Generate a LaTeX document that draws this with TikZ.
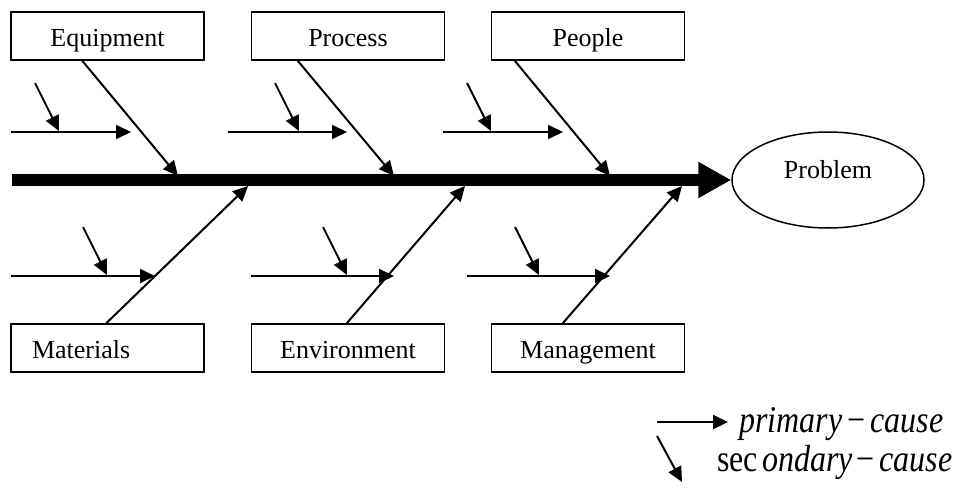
\documentclass[tikz,border=0pt]{standalone}
\usepackage{fontspec}
\usepackage{graphicx}
\setmainfont{Liberation Serif}
\usetikzlibrary{arrows.meta,shapes.geometric}
\tikzset{
  category/.style={draw, line width=1.5pt, minimum width=193pt, minimum height=48pt,
    inner sep=0pt, text height=24pt, text depth=3pt, font=\fontsize{26}{30}\selectfont},
  bone/.style={line width=2pt, -{Triangle[length=15pt,width=14pt]}},
  spine/.style={line width=12pt, -{Triangle[length=33pt,width=34pt]}},
  keytext/.style={inner sep=0pt, anchor=base west, font=\fontsize{32}{36}\selectfont}
}
\begin{document}
\begin{tikzpicture}[x=1pt,y=-1pt]
    \useasboundingbox (0,0) rectangle (960,487);
    % Categories and problem
    \node [category] (eqp) at (107.5,36) {Equipment};
    \node [category] (proc) at (348,36) {Process};
    \node [category] (ppl) at (588,36) {People};
    \node [category, text width=151pt, inner xsep=21pt, align=left] (mat) at (107.5,348) {Materials};
    \node [category] (env) at (348,348) {Environment};
    \node [category] (mgmt) at (588,348) {Management};
    \node [ellipse, draw, line width=1.5pt, minimum width=192pt, minimum height=96pt,
        text height=10pt, text depth=14pt, font=\fontsize{26}{30}\selectfont] (prob) at (828,180) {Problem};
    % Draw spine
    \coordinate (tail) at (12,180);
    \draw [spine] (tail) -- (prob.west);
    % Main bones
    \coordinate (eqp-tip) at (178,176);
    \coordinate (proc-tip) at (394,176);
    \coordinate (ppl-tip) at (610,176);
    \coordinate (mat-tip) at (248,186);
    \coordinate (env-tip) at (465,186);
    \coordinate (mgmt-tip) at (682,186);
    \draw [bone] ([xshift=72pt]eqp.south west) -- (eqp-tip);
    \draw [bone] ([xshift=47pt]proc.south west) -- (proc-tip);
    \draw [bone] ([xshift=24pt]ppl.south west) -- (ppl-tip);
    \draw [bone] ([xshift=96pt]mat.north west) -- (mat-tip);
    \draw [bone] ([xshift=96pt]env.north west) -- (env-tip);
    \draw [bone] ([xshift=72pt]mgmt.north west) -- (mgmt-tip);
    % Primary and secondary causes
    \coordinate (eqp-p) at (11,132);   \coordinate (eqp-q) at (131,132);
    \coordinate (eqp-s) at (35,83);    \coordinate (eqp-t) at (59,131);
    \coordinate (proc-p) at (228,132); \coordinate (proc-q) at (347,132);
    \coordinate (proc-s) at (275,83);  \coordinate (proc-t) at (299,131);
    \coordinate (ppl-p) at (443,132);  \coordinate (ppl-q) at (563,132);
    \coordinate (ppl-s) at (467,83);   \coordinate (ppl-t) at (491,131);
    \coordinate (mat-p) at (11,276);   \coordinate (mat-q) at (155,276);
    \coordinate (mat-s) at (83,227);   \coordinate (mat-t) at (107,275);
    \coordinate (env-p) at (251,276);  \coordinate (env-q) at (394,276);
    \coordinate (env-s) at (323,227);  \coordinate (env-t) at (347,275);
    \coordinate (mgmt-p) at (467,276); \coordinate (mgmt-q) at (610,276);
    \coordinate (mgmt-s) at (515,227); \coordinate (mgmt-t) at (539,275);
    \draw [bone] (eqp-p) -- (eqp-q);   \draw [bone] (eqp-s) -- (eqp-t);
    \draw [bone] (proc-p) -- (proc-q); \draw [bone] (proc-s) -- (proc-t);
    \draw [bone] (ppl-p) -- (ppl-q);   \draw [bone] (ppl-s) -- (ppl-t);
    \draw [bone] (mat-p) -- (mat-q);   \draw [bone] (mat-s) -- (mat-t);
    \draw [bone] (env-p) -- (env-q);   \draw [bone] (env-s) -- (env-t);
    \draw [bone] (mgmt-p) -- (mgmt-q); \draw [bone] (mgmt-s) -- (mgmt-t);
    % Legend
    \coordinate (key-p) at (657,422); \coordinate (key-q) at (728,422);
    \coordinate (key-s) at (657,436); \coordinate (key-t) at (682,482);
    \draw [bone] (key-p) -- (key-q);
    \draw [bone] (key-s) -- (key-t);
    \node [keytext] (key-prim) at (739,432)
        {\scalebox{1}[1.18]{\textit{primary}\kern5pt−\kern5pt\textit{cause}}};
    \node [keytext] (key-sec) at (717,471)
        {\scalebox{1}[1.18]{sec\kern4pt\textit{ondary}\kern4pt−\kern5pt\textit{cause}}};
\end{tikzpicture}
\end{document}
